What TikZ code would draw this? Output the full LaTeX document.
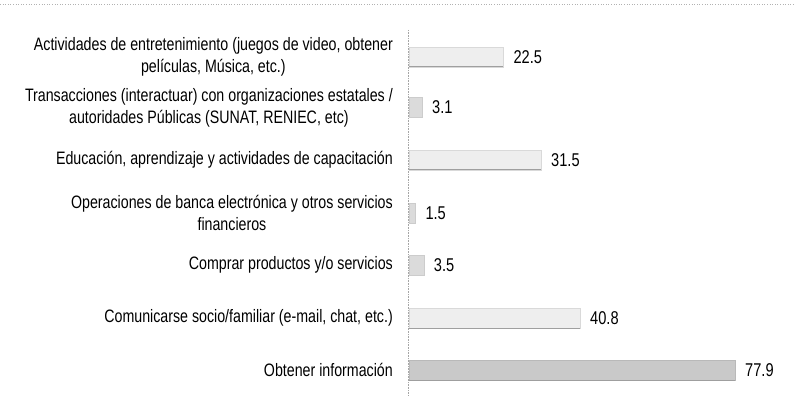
\documentclass[tikz,border=0pt]{standalone}
\usepackage{fontspec}
\setmainfont{Liberation Sans}[FakeStretch=0.79]
\begin{document}
\begin{tikzpicture}[x=1pt,y=-1pt,
  cat/.style={anchor=east,align=center,font=\fontsize{18}{21.5}\selectfont,inner sep=0pt},
  val/.style={anchor=west,font=\fontsize{18.5}{21}\selectfont,inner sep=0pt,xshift=10pt},
  barbox/.style={anchor=west,minimum height=20pt,inner sep=0pt,outer sep=0pt,fill=gray!13,draw=gray!30,line width=0.4pt},
  smallbar/.style={barbox,fill=gray!28,draw=gray!40},
  darkbar/.style={barbox,fill=gray!42,draw=gray!55},
  baseline/.style={draw=gray!75,line width=1pt}]
\useasboundingbox (0,0) rectangle (795,414);
\draw[gray!60,dotted,line width=0.6pt] (0,4) -- (795,4);
\coordinate (axtop) at (408,30);
\coordinate (axbot) at (408,396);
\draw[gray!70,densely dotted,line width=0.6pt] (axtop) -- (axbot);
% rows
\node[cat] (c1) at (393,57) {Actividades de entretenimiento (juegos de video, obtener\\películas, Música, etc.)};
\node[cat] (c2) at (393,108) {Transacciones (interactuar) con organizaciones estatales /\\autoridades Públicas (SUNAT, RENIEC, etc)};
\node[cat] (c3) at (393,160) {Educación, aprendizaje y actividades de capacitación};
\node[cat] (c4) at (393,213) {Operaciones de banca electrónica y otros servicios\\financieros};
\node[cat] (c5) at (393,265) {Comprar productos y/o servicios};
\node[cat] (c6) at (393,318) {Comunicarse socio/familiar (e-mail, chat, etc.)};
\node[cat] (c7) at (393,370) {Obtener información};
% bars
\node[barbox,minimum width=94.3pt] (b1) at (409,57) {};
\node[smallbar,minimum width=13pt] (b2) at (409,107) {};
\node[barbox,minimum width=132pt] (b3) at (409,160) {};
\node[smallbar,minimum width=6.3pt] (b4) at (409,213) {};
\node[smallbar,minimum width=14.7pt] (b5) at (409,265) {};
\node[barbox,minimum width=171pt] (b6) at (409,318) {};
\node[darkbar,minimum width=326pt] (b7) at (409,370) {};
\foreach \b in {b1,b3,b6,b7}{\draw[baseline] (\b.south west) -- (\b.south east);}
% values
\node[val] (v1) at (b1.east) {22.5};
\node[val] (v2) at (b2.east) {3.1};
\node[val] (v3) at (b3.east) {31.5};
\node[val] (v4) at (b4.east) {1.5};
\node[val] (v5) at (b5.east) {3.5};
\node[val] (v6) at (b6.east) {40.8};
\node[val] (v7) at (b7.east) {77.9};
\end{tikzpicture}
\end{document}
